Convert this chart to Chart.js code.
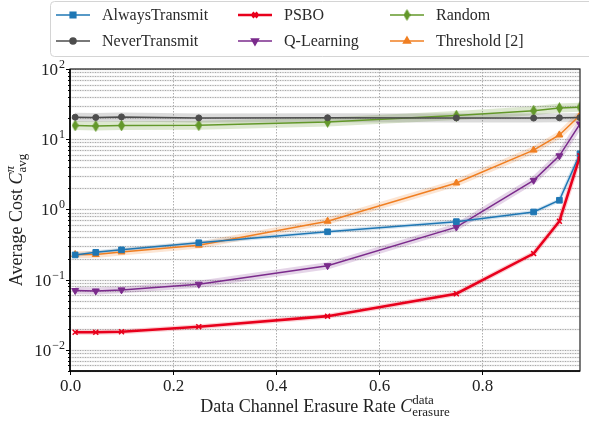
<!DOCTYPE html>
<html>
<head>
<meta charset="utf-8">
<script src="https://cdn.jsdelivr.net/npm/chart.js@4.4.1/dist/chart.umd.min.js"></script>
<style>
  html, body { margin: 0; padding: 0; background: #fff; }
  #wrap { width: 589px; height: 424px; }
</style>
</head>
<body>
<div id="wrap"><canvas id="grafico"></canvas></div>
<script>
// erasure rates where the curves were sampled
const taxas = [0.01, 0.05, 0.1, 0.25, 0.5, 0.75, 0.9, 0.95, 0.99];

const alwaysTransmit = [0.225, 0.245, 0.266, 0.335, 0.48, 0.67, 0.92, 1.35, 6.2];
const neverTransmit  = [20.6, 20.4, 20.8, 20.1, 20.2, 20.1, 20.0, 20.2, 20.3];
const psbo           = [0.0178, 0.0178, 0.0181, 0.0213, 0.0302, 0.063, 0.235, 0.68, 5.8];
const qLearning      = [0.070, 0.069, 0.0715, 0.086, 0.158, 0.56, 2.6, 5.8, 16.5];
const randomPol      = [15.7, 15.4, 15.7, 15.8, 17.6, 21.7, 25.5, 27.8, 28.5];
const threshold      = [0.228, 0.228, 0.248, 0.31, 0.68, 2.38, 7.0, 11.5, 22];

const xTicks = [0, 0.2, 0.4, 0.6, 0.8];
const xTickLabels = ["0.0", "0.2", "0.4", "0.6", "0.8"];
const yDecadas = [-2, -1, 0, 1, 2];
const yTickLabels = ["\u22122", "\u22121", "0", "1", "2"];

const X_MIN = 0, X_MAX = 0.99, Y_MIN = 0.005, Y_MAX = 100;
const SERIF = '"Liberation Serif", "DejaVu Serif", serif';

// thin diamond marker for the Random policy
function diamante(cor) {
    const c = document.createElement("canvas");
    c.width = 7; c.height = 12;
    const g = c.getContext("2d");
    g.fillStyle = cor;
    g.beginPath();
    g.moveTo(3.5, 0); g.lineTo(7, 6); g.lineTo(3.5, 12); g.lineTo(0, 6);
    g.closePath();
    g.fill();
    return c;
}

const series = [
    { nome: "AlwaysTransmit", dados: alwaysTransmit, cor: "#1f77b4", banda: "rgba(31,119,180,0.18)", bw: 4, lw: 1.5, estilo: "rect", raio: 4, rot: 0, ordem: 2 },
    { nome: "NeverTransmit", dados: neverTransmit, cor: "#4d4d4d", banda: "rgba(90,90,90,0.22)", bw: 9, lw: 1.5, estilo: "circle", raio: 3, rot: 0, ordem: 2 },
    { nome: "PSBO", dados: psbo, cor: "#e8001c", banda: "rgba(232,0,28,0.18)", bw: 5, lw: 2.6, estilo: "crossRot", raio: 3.5, rot: 0, ordem: 1 },
    { nome: "Q-Learning", dados: qLearning, cor: "#7b2b8c", banda: "rgba(123,43,140,0.2)", bw: 7, lw: 1.5, estilo: "triangle", raio: 4, rot: 180, ordem: 2 },
    { nome: "Random", dados: randomPol, cor: "#63982a", banda: "rgba(99,152,42,0.22)", bw: 9, lw: 1.5, estilo: diamante("#63982a"), raio: 4, rot: 0, ordem: 2 },
    { nome: "Threshold [2]", dados: threshold, cor: "#f07f22", banda: "rgba(240,127,34,0.2)", bw: 7, lw: 1.5, estilo: "triangle", raio: 4, rot: 0, ordem: 2 }
];

const datasets = [];
series.forEach(s => {
    datasets.push({
        label: s.nome + " band",
        data: s.dados.map((v, i) => ({ x: taxas[i], y: v })),
        borderColor: s.banda,
        borderWidth: s.bw,
        pointRadius: 0,
        tension: 0,
        order: 10
    });
});
series.forEach(s => {
    datasets.push({
        label: s.nome,
        data: s.dados.map((v, i) => ({ x: taxas[i], y: v })),
        borderColor: s.cor,
        backgroundColor: s.cor,
        borderWidth: s.lw,
        pointStyle: s.estilo,
        pointRotation: s.rot,
        pointRadius: s.raio,
        pointBorderWidth: s.estilo === "crossRot" ? 1.5 : 1,
        pointBorderColor: s.cor,
        pointBackgroundColor: s.cor,
        tension: 0,
        order: s.ordem
    });
});

// draws "10" with a raised exponent, right aligned at x
function textoPotencia(ctx, exp, x, y) {
    ctx.font = `17px ${SERIF}`;
    const wBase = ctx.measureText("10").width;
    ctx.font = `12px ${SERIF}`;
    const wExp = ctx.measureText(exp).width;
    const x0 = x - wBase - wExp - 1;
    ctx.textAlign = "left";
    ctx.textBaseline = "alphabetic";
    ctx.font = `17px ${SERIF}`;
    ctx.fillText("10", x0, y + 6);
    ctx.font = `12px ${SERIF}`;
    ctx.fillText(exp, x0 + wBase + 1, y - 1);
}

// draws a run of pieces, a "pilha" is a superscript stacked over a subscript
function desenhaPartes(ctx, partes, x, y) {
    let cx = x;
    partes.forEach(p => {
        if (p.pilha) {
            ctx.font = p.pilha[0].f;
            const w1 = ctx.measureText(p.pilha[0].t).width;
            ctx.fillText(p.pilha[0].t, cx, y + p.pilha[0].dy);
            ctx.font = p.pilha[1].f;
            const w2 = ctx.measureText(p.pilha[1].t).width;
            ctx.fillText(p.pilha[1].t, cx, y + p.pilha[1].dy);
            cx += Math.max(w1, w2);
        } else {
            ctx.font = p.f;
            ctx.fillText(p.t, cx, y + (p.dy || 0));
            cx += ctx.measureText(p.t).width;
        }
    });
    return cx - x;
}

function larguraPartes(ctx, partes) {
    let w = 0;
    partes.forEach(p => {
        if (p.pilha) {
            ctx.font = p.pilha[0].f;
            const w1 = ctx.measureText(p.pilha[0].t).width;
            ctx.font = p.pilha[1].f;
            const w2 = ctx.measureText(p.pilha[1].t).width;
            w += Math.max(w1, w2);
        } else {
            ctx.font = p.f;
            w += ctx.measureText(p.t).width;
        }
    });
    return w;
}

const pluginEixos = {
    id: "eixos",
    beforeDraw(chart) {
        const { ctx, chartArea: a, scales: { x, y } } = chart;
        ctx.save();
        ctx.fillStyle = "#fff";
        ctx.fillRect(0, 0, chart.width, chart.height);

        // horizontal grid: every 1..9 x 10^n
        for (let e = -3; e <= 2; e++) {
            for (let m = 1; m <= 9; m++) {
                const v = m * Math.pow(10, e);
                if (v < Y_MIN || v > Y_MAX) continue;
                const py = Math.round(y.getPixelForValue(v)) + 0.5;
                ctx.setLineDash([]);
                ctx.strokeStyle = "#e2e2e2";
                ctx.lineWidth = 1.6;
                ctx.beginPath(); ctx.moveTo(a.left, py); ctx.lineTo(a.right, py); ctx.stroke();
                ctx.setLineDash([1, 1.5]);
                ctx.strokeStyle = "#9a9a9a";
                ctx.lineWidth = 0.8;
                ctx.beginPath(); ctx.moveTo(a.left, py); ctx.lineTo(a.right, py); ctx.stroke();
            }
        }
        // vertical grid
        xTicks.forEach(t => {
            const px = Math.round(x.getPixelForValue(t)) + 0.5;
            ctx.setLineDash([1.5, 1.5]);
            ctx.strokeStyle = "#a5a5a5";
            ctx.lineWidth = 0.9;
            ctx.beginPath(); ctx.moveTo(px, a.top); ctx.lineTo(px, a.bottom); ctx.stroke();
        });
        ctx.restore();
    },
    afterDraw(chart) {
        const { ctx, chartArea: a, scales: { x, y } } = chart;
        ctx.save();
        ctx.setLineDash([]);

        // spines
        ctx.strokeStyle = "#222";
        ctx.lineWidth = 1.2;
        ctx.strokeRect(a.left, a.top, a.right - a.left, a.bottom - a.top);
        ctx.strokeStyle = "#000";
        ctx.lineWidth = 1.6;
        ctx.beginPath();
        ctx.moveTo(a.left, a.top); ctx.lineTo(a.left, a.bottom); ctx.lineTo(a.right, a.bottom);
        ctx.stroke();

        // y ticks
        ctx.lineWidth = 1;
        for (let e = -3; e <= 2; e++) {
            for (let m = 1; m <= 9; m++) {
                const v = m * Math.pow(10, e);
                if (v < Y_MIN || v > Y_MAX) continue;
                const py = Math.round(y.getPixelForValue(v)) + 0.5;
                const len = m === 1 ? 4 : 2;
                ctx.beginPath(); ctx.moveTo(a.left - len, py); ctx.lineTo(a.left, py); ctx.stroke();
            }
        }
        ctx.fillStyle = "#222";
        yDecadas.forEach((d, i) => {
            const py = y.getPixelForValue(Math.pow(10, d));
            textoPotencia(ctx, yTickLabels[i], a.left - 5, py);
        });

        // x ticks
        ctx.textAlign = "center";
        ctx.textBaseline = "alphabetic";
        ctx.font = `17px ${SERIF}`;
        xTicks.forEach((t, i) => {
            const px = Math.round(x.getPixelForValue(t)) + 0.5;
            ctx.beginPath(); ctx.moveTo(px, a.bottom); ctx.lineTo(px, a.bottom + 4); ctx.stroke();
            ctx.fillText(xTickLabels[i], px, a.bottom + 20);
        });

        // axis titles
        ctx.textAlign = "left";
        const fBase = `18px ${SERIF}`, fIt = `italic 18px ${SERIF}`, fPeq = `13px ${SERIF}`, fPeqIt = `italic 13px ${SERIF}`;
        const tituloX = [
            { t: "Data Channel Erasure Rate ", f: fBase },
            { t: "C", f: fIt },
            { pilha: [{ t: "data", f: fPeq, dy: -8 }, { t: "erasure", f: fPeq, dy: 4 }] }
        ];
        const wx = larguraPartes(ctx, tituloX);
        desenhaPartes(ctx, tituloX, (a.left + a.right) / 2 - wx / 2, 412);

        const tituloY = [
            { t: "Average Cost ", f: fBase },
            { t: "C", f: fIt },
            { pilha: [{ t: "\u03c0", f: fPeqIt, dy: -8 }, { t: "avg", f: fPeq, dy: 4 }] }
        ];
        const wy = larguraPartes(ctx, tituloY);
        ctx.save();
        ctx.translate(22, (a.top + a.bottom) / 2);
        ctx.rotate(-Math.PI / 2);
        desenhaPartes(ctx, tituloY, -wy / 2, 0);
        ctx.restore();

        // legend box (three columns, filled column by column)
        ctx.fillStyle = "rgba(255,255,255,0.85)";
        ctx.strokeStyle = "#d4d4d4";
        ctx.lineWidth = 1;
        ctx.beginPath();
        ctx.roundRect(50.5, 1.5, 560, 55, 4);
        ctx.fill();
        ctx.stroke();

        const colunas = [56, 238, 390];
        const linhas = [15, 41];
        ctx.font = `16px ${SERIF}`;
        ctx.textBaseline = "middle";
        series.forEach((s, i) => {
            const cx = colunas[Math.floor(i / 2)];
            const cy = linhas[i % 2];
            ctx.strokeStyle = s.cor;
            ctx.fillStyle = s.cor;
            ctx.lineWidth = s.lw;
            ctx.beginPath(); ctx.moveTo(cx, cy); ctx.lineTo(cx + 34, cy); ctx.stroke();
            Chart.helpers.drawPoint(ctx, {
                pointStyle: s.estilo, rotation: s.rot, radius: s.raio,
                borderWidth: s.estilo === "crossRot" ? 1.5 : 1
            }, cx + 17, cy);
            ctx.fillStyle = "#2a2a2a";
            ctx.fillText(s.nome, cx + 46, cy + 1);
        });
        ctx.restore();
    }
};

new Chart(document.getElementById("grafico"), {
    type: "line",
    data: { datasets },
    options: {
        responsive: true,
        maintainAspectRatio: false,
        animation: false,
        devicePixelRatio: 1,
        layout: { padding: { top: 69, right: 9, left: 0, bottom: 0 } },
        plugins: { legend: { display: false }, tooltip: { enabled: false } },
        scales: {
            x: {
                type: "linear", min: X_MIN, max: X_MAX,
                grid: { display: false }, border: { display: false },
                ticks: { display: false },
                afterFit: s => { s.height = 53; }
            },
            y: {
                type: "logarithmic", min: Y_MIN, max: Y_MAX,
                grid: { display: false }, border: { display: false },
                ticks: { display: false },
                afterFit: s => { s.width = 70; }
            }
        }
    },
    plugins: [pluginEixos]
});
</script>
</body>
</html>
